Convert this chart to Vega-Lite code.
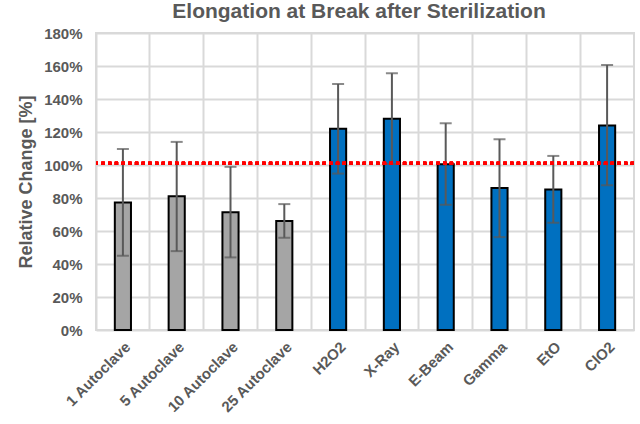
{
  "$schema": "https://vega.github.io/schema/vega-lite/v6.json",
  "autosize": "none",
  "padding": {"left": 96, "top": 33, "right": 6, "bottom": 94},
  "width": 538,
  "height": 297,
  "background": "white",
  "config": {
    "font": "Liberation Sans",
    "view": {"stroke": "#D9D9D9", "strokeWidth": 2},
    "axis": {"labelColor": "#595959", "titleColor": "#595959", "labelFontWeight": "bold", "titleFontWeight": "bold", "gridColor": "#D9D9D9", "gridWidth": 2, "domain": false, "ticks": false, "labelOverlap": false},
    "axisY": {"labelOverlap": false, "labelFontSize": 15, "labelPadding": 14, "titleFontSize": 18, "titlePadding": 8, "grid": true}
  },
  "title": {"text": "Elongation at Break after Sterilization", "fontSize": 21, "fontWeight": "bold", "color": "#595959", "offset": 4, "dx": -6},
  "data": {
    "values": [
      {"label": "1 Autoclave", "group": "Autoclave", "value": 77.3, "low": 45.0, "high": 109.7},
      {"label": "5 Autoclave", "group": "Autoclave", "value": 81.0, "low": 47.8, "high": 114.0},
      {"label": "10 Autoclave", "group": "Autoclave", "value": 71.4, "low": 44.0, "high": 98.9},
      {"label": "25 Autoclave", "group": "Autoclave", "value": 66.0, "low": 55.9, "high": 76.3},
      {"label": "H2O2", "group": "Other", "value": 121.9, "low": 94.8, "high": 149.1},
      {"label": "X-Ray", "group": "Other", "value": 128.1, "low": 100.6, "high": 155.6},
      {"label": "E-Beam", "group": "Other", "value": 100.5, "low": 75.9, "high": 125.3},
      {"label": "Gamma", "group": "Other", "value": 86.0, "low": 56.3, "high": 115.6},
      {"label": "EtO", "group": "Other", "value": 85.2, "low": 65.0, "high": 105.5},
      {"label": "ClO2", "group": "Other", "value": 123.9, "low": 87.8, "high": 160.6}
    ]
  },
  "resolve": {"axis": {"x": "independent"}},
  "layer": [
    {
      "mark": {"type": "bar", "width": {"band": 0.3}, "stroke": "black", "strokeWidth": 2},
      "encoding": {
        "x": {
          "field": "label", "type": "nominal", "sort": null,
          "scale": {"paddingInner": 0, "paddingOuter": 0},
          "axis": {"title": null, "grid": false, "labelAngle": -45, "labelAlign": "right", "labelBaseline": "top", "labelPadding": 9, "labelFontSize": 15}
        },
        "y": {"field": "value", "type": "quantitative", "scale": {"domain": [0, 180]},
          "axis": {"title": "Relative Change [%]", "labelOverlap": false, "values": [0, 20, 40, 60, 80, 100, 120, 140, 160, 180], "labelExpr": "datum.value + '%'"}},
        "color": {"field": "group", "type": "nominal", "scale": {"domain": ["Autoclave", "Other"], "range": ["#A5A5A5", "#0070C0"]}, "legend": null}
      }
    },
    {
      "mark": {"type": "rule", "color": "#595959", "strokeWidth": 2},
      "encoding": {
        "x": {"field": "label", "type": "nominal", "sort": null,
          "axis": {"orient": "top", "title": null, "grid": true, "bandPosition": 0, "labels": false, "ticks": false, "domain": false}},
        "y": {"field": "low", "type": "quantitative", "axis": {"title": "Relative Change [%]", "labelOverlap": false, "values": [0, 20, 40, 60, 80, 100, 120, 140, 160, 180], "labelExpr": "datum.value + '%'"}}, "y2": {"field": "high"}}
    },
    {
      "mark": {"type": "tick", "color": "#595959", "thickness": 2, "size": 12},
      "encoding": {"x": {"field": "label", "type": "nominal", "sort": null, "axis": null}, "y": {"field": "low", "type": "quantitative", "axis": {"title": "Relative Change [%]", "labelOverlap": false, "values": [0, 20, 40, 60, 80, 100, 120, 140, 160, 180], "labelExpr": "datum.value + '%'"}}}
    },
    {
      "mark": {"type": "tick", "color": "#595959", "thickness": 2, "size": 12},
      "encoding": {"x": {"field": "label", "type": "nominal", "sort": null, "axis": null}, "y": {"field": "high", "type": "quantitative", "axis": {"title": "Relative Change [%]", "labelOverlap": false, "values": [0, 20, 40, 60, 80, 100, 120, 140, 160, 180], "labelExpr": "datum.value + '%'"}}}
    },
    {
      "mark": {"type": "rule", "color": "#FF0000", "strokeWidth": 3.3, "strokeDash": [3.3, 3.4]},
      "encoding": {"y": {"datum": 101, "axis": {"title": "Relative Change [%]", "labelOverlap": false, "values": [0, 20, 40, 60, 80, 100, 120, 140, 160, 180], "labelExpr": "datum.value + '%'"}}}
    }
  ]
}
